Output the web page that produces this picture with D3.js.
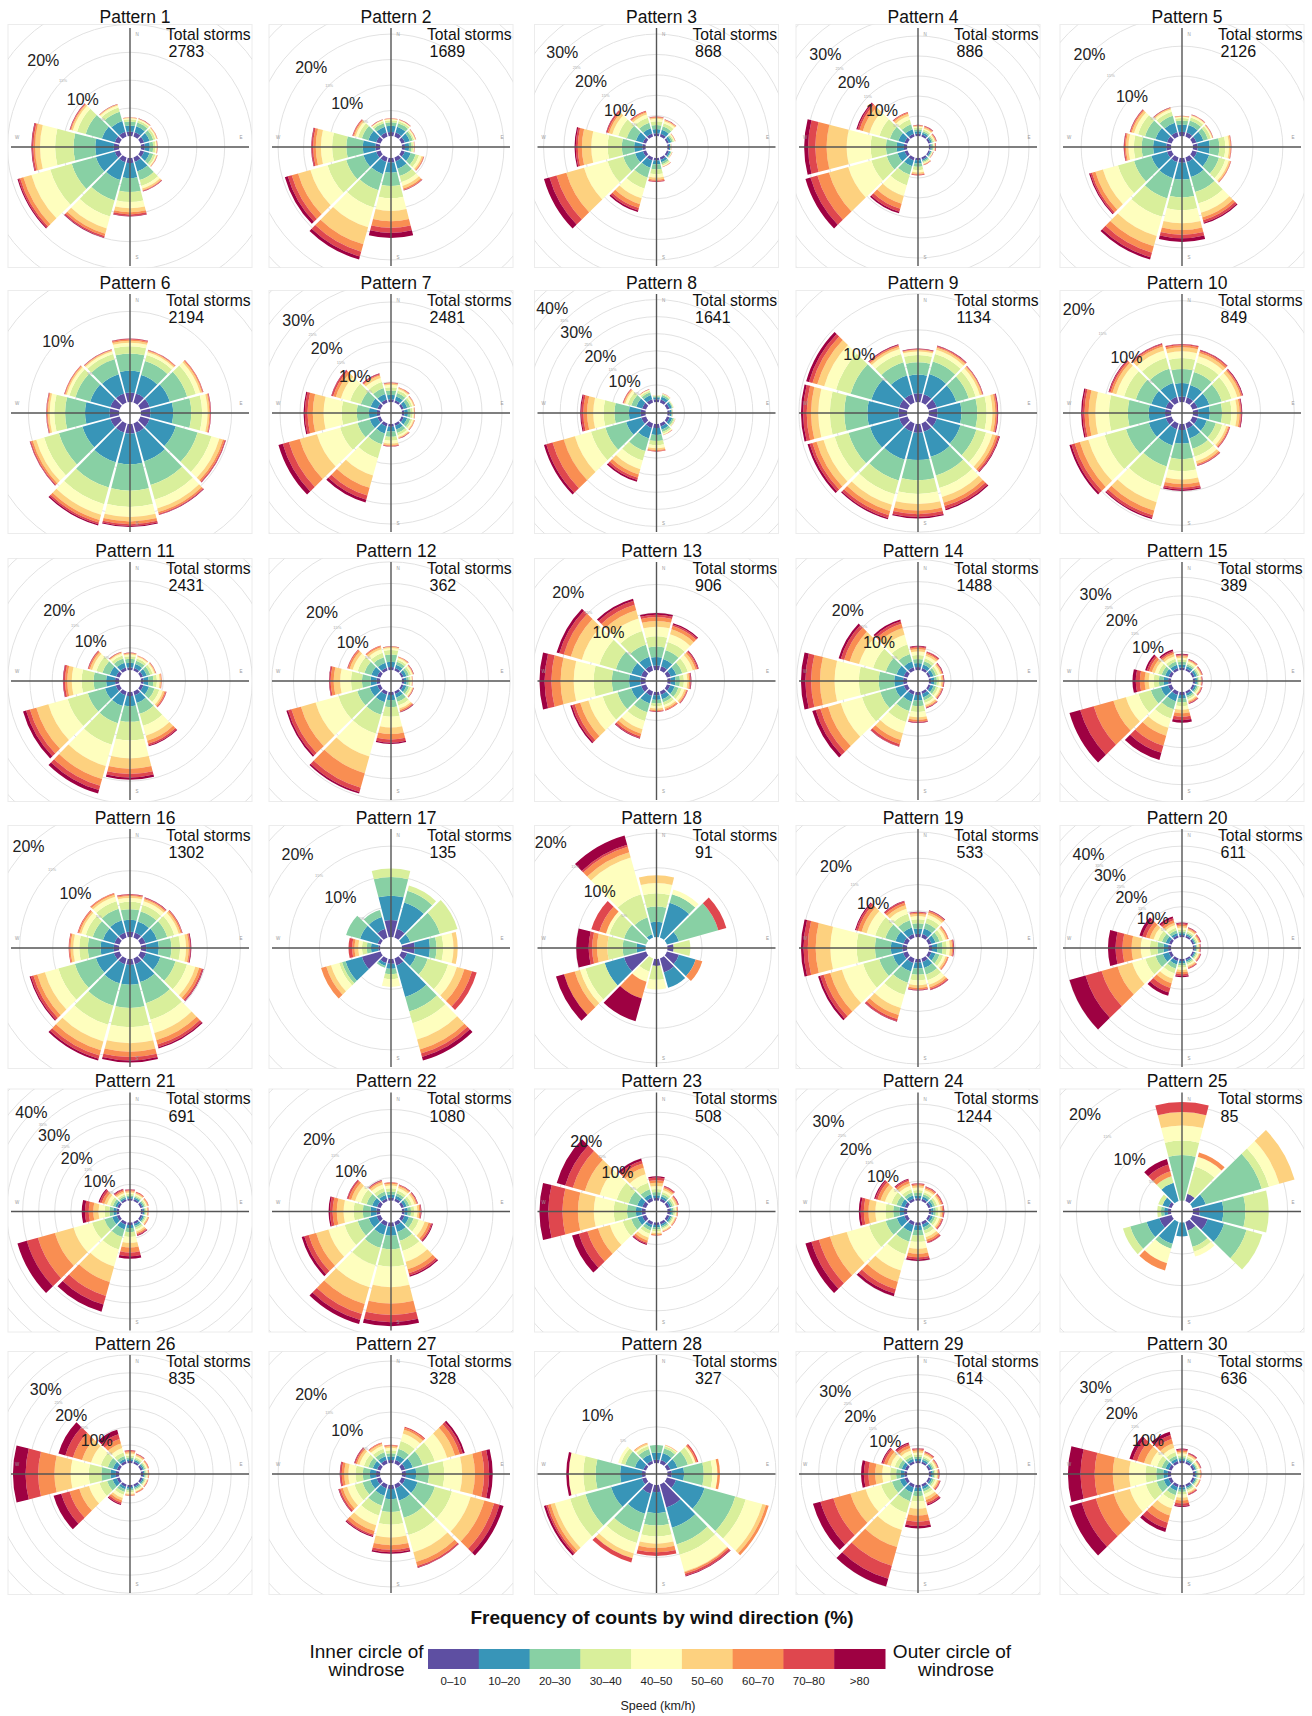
<!DOCTYPE html>
<html>
<head>
<meta charset="utf-8">
<script src="https://cdn.jsdelivr.net/npm/d3@7"></script>
<style>
  body { margin: 0; background: #fff; }
  svg { display: block; font-family: "Liberation Sans", Arial, sans-serif; }
</style>
</head>
<body>
<svg id="chart" width="1312" height="1716"></svg>
<script>
// wind directions (degrees, clockwise from north) of the 12 sectors
const directions = [0, 30, 60, 90, 120, 150, 180, 210, 240, 270, 300, 330];
const speedBins = ["0–10", "10–20", "20–30", "30–40", "40–50", "50–60", "60–70", "70–80", ">80"];
const binColors = ["#5e4fa2", "#3895b8", "#88d0a4", "#d9ef9b", "#fefebe", "#fdd17f", "#f98e52", "#df474e", "#9e0142"];

const totalStorms = [2783, 1689, 868, 886, 2126, 2194, 2481, 1641, 1134, 849,
  2431, 362, 906, 1488, 389, 1302, 135, 91, 533, 611,
  691, 1080, 508, 1244, 85, 835, 328, 327, 614, 636];
// how many % labels (10%, 20%, ...) each rose shows
const labelSteps = [2, 2, 3, 3, 2, 1, 3, 4, 1, 2, 2, 2, 2, 2, 3, 2, 2, 2, 2, 4, 4, 2, 2, 3, 2, 3, 2, 1, 3, 3];

// frequency (%) per sector (rows, same order as directions) and speed bin (columns)
const rose01 = [[0.8,1.1,0.7,0.4,0.2,0.1,0.03,0.03,0.02],[0.8,1.1,0.7,0.4,0.2,0.1,0.05,0.03,0.02],[0.7,1.0,0.7,0.4,0.2,0.1,0.05,0.02,0.02],[0.7,0.9,0.6,0.4,0.2,0.1,0.05,0.03,0.02],[0.7,1.0,0.7,0.4,0.2,0.1,0.05,0.03,0.02],[0.8,1.8,1.6,1.1,0.5,0.3,0.1,0.1,0.05],[0.9,2.7,2.5,1.8,1.1,0.7,0.4,0.3,0.1],[0.9,3.3,3.8,3.0,2.2,1.0,0.4,0.3,0.1],[0.9,3.5,4.5,4.0,3.5,1.5,0.6,0.3,0.2],[0.95,3.3,3.9,3.3,2.7,0.9,0.3,0.25,0.1],[0.9,2.4,3.0,1.6,0.8,0.3,0.15,0.1,0.05],[0.9,2.0,1.7,0.8,0.4,0.15,0.05,0.03,0.02]];
const rose02 = [[0.8,1.2,0.7,0.4,0.2,0.1,0.05,0.03,0.02],[0.8,1.2,0.7,0.4,0.2,0.1,0.05,0.03,0.02],[0.7,1.0,0.6,0.3,0.2,0.1,0.05,0.03,0.02],[0.6,0.8,0.5,0.3,0.15,0.1,0.03,0.02,0.02],[0.7,1.2,1.0,0.7,0.5,0.3,0.15,0.05,0.03],[0.8,1.5,1.5,1.2,0.8,0.5,0.3,0.1,0.05],[0.9,2.0,2.6,2.4,2.5,2.0,1.3,1.0,1.0],[0.9,2.5,3.3,3.5,4.0,3.5,1.5,1.0,0.6],[0.9,2.6,3.5,3.8,3.5,2.5,1.3,0.8,0.6],[0.9,2.5,3.2,2.8,2.2,1.0,0.5,0.3,0.1],[0.9,1.6,1.3,0.8,0.5,0.3,0.2,0.1,0.05],[0.8,1.2,0.7,0.4,0.2,0.1,0.05,0.03,0.02]];
const rose03 = [[0.7,1.0,1.0,0.9,0.6,0.3,0.15,0.1,0.05],[0.7,1.0,0.9,0.8,0.5,0.3,0.1,0.07,0.03],[0.5,0.6,0.4,0.3,0.2,0.1,0.05,0.03,0.02],[0.4,0.3,0.1,0.05,0.05,0.03,0.02,0.02,0.01],[0.5,0.4,0.2,0.1,0.1,0.05,0.03,0.02,0.01],[0.6,0.6,0.5,0.4,0.2,0.1,0.05,0.03,0.02],[0.6,1.0,1.2,1.2,0.8,0.5,0.3,0.2,0.1],[0.8,1.8,2.5,2.8,2.5,1.5,1.0,0.6,0.4],[0.8,2.0,3.0,4.0,6.0,4.5,2.5,1.8,1.4],[0.8,2.0,3.0,3.5,4.0,2.3,1.0,0.5,0.3],[0.8,1.8,2.3,2.2,1.5,0.8,0.4,0.3,0.1],[0.8,1.3,1.4,1.3,0.8,0.5,0.3,0.15,0.05]];
const rose04 = [[0.6,0.6,0.5,0.4,0.3,0.2,0.1,0.07,0.03],[0.5,0.5,0.4,0.4,0.3,0.3,0.2,0.15,0.05],[0.5,0.4,0.3,0.3,0.2,0.2,0.15,0.1,0.05],[0.4,0.3,0.3,0.2,0.2,0.15,0.1,0.1,0.05],[0.4,0.3,0.2,0.15,0.1,0.1,0.05,0.03,0.02],[0.5,0.4,0.3,0.3,0.2,0.15,0.1,0.05,0.03],[0.6,0.8,0.8,0.8,0.6,0.4,0.2,0.15,0.05],[0.8,1.5,2.2,2.7,2.8,2.0,1.3,0.8,0.4],[0.8,1.8,2.8,4.0,6.0,5.0,3.0,1.8,1.3],[0.8,1.8,2.7,3.8,6.0,5.0,2.8,1.8,1.0],[0.8,1.6,2.2,2.7,2.6,1.7,0.9,0.5,0.3],[0.7,1.2,1.3,1.2,0.9,0.6,0.3,0.15,0.05]];
const rose05 = [[0.7,1.2,0.7,0.4,0.2,0.1,0.05,0.03,0.02],[0.7,1.3,0.8,0.5,0.3,0.1,0.05,0.03,0.02],[0.7,1.2,0.8,0.5,0.2,0.1,0.05,0.03,0.02],[0.8,2.0,1.6,1.0,0.6,0.25,0.1,0.05,0.02],[0.8,2.1,1.7,1.1,0.6,0.25,0.1,0.05,0.02],[0.8,2.6,2.6,2.0,1.6,0.8,0.5,0.4,0.2],[0.8,2.8,3.0,2.1,2.2,1.1,0.8,0.6,0.6],[0.8,2.8,3.5,3.2,3.3,1.8,1.1,0.8,0.4],[0.8,2.7,3.0,2.8,2.6,1.3,0.6,0.3,0.2],[0.8,2.2,1.9,1.3,0.9,0.4,0.2,0.15,0.05],[0.8,2.0,1.8,1.2,0.7,0.4,0.2,0.1,0.05],[0.8,1.6,1.2,0.7,0.4,0.2,0.1,0.05,0.03]];
const rose06 = [[1.05,2.4,1.9,0.8,0.4,0.2,0.15,0.08,0.02],[1.05,2.1,1.6,0.7,0.3,0.15,0.08,0.05,0.02],[1.05,2.3,2.0,1.0,0.5,0.2,0.1,0.05,0.02],[1.05,2.5,2.0,1.2,0.6,0.2,0.1,0.05,0.03],[1.05,3.0,2.5,1.6,0.9,0.4,0.2,0.1,0.05],[1.05,3.3,2.7,1.7,1.0,0.4,0.2,0.1,0.05],[1.05,3.4,2.9,1.8,1.1,0.5,0.3,0.2,0.1],[1.05,3.4,2.9,1.9,1.2,0.6,0.3,0.2,0.15],[1.05,3.2,2.7,1.7,0.9,0.4,0.2,0.1,0.05],[1.05,2.7,2.2,1.2,0.5,0.2,0.1,0.05,0.03],[1.05,2.3,1.7,0.7,0.3,0.15,0.08,0.05,0.02],[1.05,2.2,1.7,0.6,0.3,0.15,0.05,0.03,0.02]];
const rose07 = [[0.7,1.1,1.1,0.8,0.6,0.3,0.15,0.1,0.05],[0.6,1.0,0.9,0.6,0.4,0.25,0.15,0.07,0.03],[0.6,0.9,0.8,0.5,0.35,0.2,0.1,0.03,0.02],[0.6,0.9,0.7,0.5,0.3,0.15,0.08,0.05,0.02],[0.6,0.9,0.8,0.5,0.35,0.2,0.1,0.03,0.02],[0.6,1.0,0.9,0.6,0.4,0.25,0.15,0.07,0.03],[0.7,1.2,1.3,1.0,0.7,0.4,0.2,0.1,0.05],[0.8,1.8,2.8,3.6,4.5,3.2,2.0,1.1,0.7],[0.8,2.0,3.2,4.5,6.0,4.5,2.8,1.6,1.1],[0.8,2.0,3.0,3.8,4.5,2.7,1.3,0.7,0.3],[0.8,1.8,2.5,2.8,2.4,1.3,0.7,0.4,0.1],[0.8,1.4,1.6,1.5,1.1,0.6,0.3,0.2,0.1]];
const rose08 = [[0.8,0.6,0.3,0.15,0.1,0.03,0.02,0,0],[0.9,0.9,0.5,0.3,0.1,0.05,0.03,0.02,0],[0.8,0.7,0.3,0.15,0.1,0.03,0.02,0,0],[0.7,0.5,0.25,0.1,0.05,0.03,0.01,0.01,0],[0.8,0.8,0.5,0.3,0.1,0.05,0.02,0.02,0.01],[0.9,1.0,0.7,0.5,0.3,0.1,0.05,0.03,0.02],[1.2,2.0,1.8,1.2,0.9,0.5,0.3,0.15,0.05],[1.4,3.2,3.8,2.9,2.6,1.6,1.0,0.7,0.5],[1.45,4.6,6.3,4.4,4.9,3.4,3.4,1.9,0.7],[1.4,3.5,4.2,3.2,3.0,1.8,1.1,0.6,0.3],[1.2,1.8,1.5,1.1,0.7,0.4,0.2,0.15,0.05],[1.0,1.3,0.8,0.5,0.3,0.1,0.05,0.03,0.02]];
const rose09 = [[1.2,2.6,1.7,1.0,0.5,0.2,0.1,0.05,0.05],[1.2,2.9,1.8,1.1,0.6,0.3,0.15,0.1,0.05],[1.2,2.8,1.8,1.0,0.6,0.3,0.1,0.05,0.05],[1.2,3.3,2.2,1.3,0.8,0.4,0.2,0.1,0.1],[1.2,3.4,2.3,1.4,0.9,0.5,0.3,0.2,0.1],[1.2,3.6,2.7,1.8,1.3,0.8,0.5,0.4,0.2],[1.2,3.8,2.8,1.9,1.4,0.9,0.5,0.4,0.2],[1.2,4.0,3.0,2.0,1.5,0.9,0.6,0.4,0.2],[1.2,4.2,3.1,2.0,1.6,1.0,0.6,0.4,0.3],[1.2,4.3,3.2,2.0,1.6,1.0,0.6,0.5,0.3],[1.2,4.0,3.0,2.1,1.7,1.0,0.7,0.5,0.4],[1.2,2.7,1.9,1.2,0.7,0.3,0.2,0.1,0.1]];
const rose10 = [[0.8,2.0,2.1,1.6,1.0,0.6,0.3,0.15,0.05],[0.8,1.9,2.0,1.5,0.9,0.5,0.3,0.15,0.05],[0.8,1.8,1.9,1.5,0.9,0.5,0.2,0.1,0.1],[0.8,1.7,1.8,1.4,0.8,0.4,0.2,0.1,0.1],[0.8,1.4,1.4,1.0,0.6,0.3,0.15,0.1,0.05],[0.8,1.5,1.6,1.2,0.7,0.4,0.2,0.1,0.05],[0.9,2.0,2.3,1.8,1.2,0.7,0.5,0.3,0.2],[0.9,2.5,3.2,3.1,2.4,1.3,0.7,0.4,0.2],[0.9,2.6,3.5,3.3,2.5,1.3,0.8,0.5,0.3],[0.9,2.4,3.1,2.8,2.0,1.0,0.6,0.3,0.2],[0.9,2.2,2.4,1.8,1.2,0.6,0.3,0.2,0.1],[0.9,2.1,2.2,1.7,1.1,0.6,0.3,0.15,0.05]];
const rose11 = [[0.6,1.0,0.9,0.6,0.4,0.2,0.1,0.05,0.05],[0.6,0.9,0.8,0.5,0.4,0.2,0.05,0.03,0.02],[0.6,0.9,0.8,0.6,0.4,0.2,0.1,0.05,0.05],[0.6,1.1,1.1,0.8,0.6,0.3,0.15,0.05,0],[0.7,1.3,1.3,1.1,0.8,0.4,0.3,0.15,0.05],[0.9,1.8,2.5,2.8,2.3,1.2,0.7,0.4,0.2],[0.9,2.3,3.5,4.2,4.0,2.3,1.2,0.8,0.5],[0.9,2.5,4.0,5.0,5.0,3.0,1.6,1.0,0.8],[0.9,2.5,4.0,4.7,4.5,2.8,1.5,0.9,0.7],[0.9,2.0,2.8,2.7,2.2,1.0,0.5,0.4,0.1],[0.8,1.5,1.7,1.4,1.0,0.5,0.3,0.15,0.05],[0.7,1.1,1.0,0.7,0.5,0.2,0.1,0.05,0.05]];
const rose12 = [[0.7,1.2,1.7,1.0,0.5,0.2,0.1,0.05,0.05],[0.6,0.8,0.7,0.5,0.4,0.2,0.1,0.05,0.05],[0.5,0.7,0.6,0.5,0.3,0.2,0.1,0.05,0.05],[0.5,0.6,0.5,0.4,0.3,0.1,0.05,0.03,0.02],[0.5,0.7,0.6,0.5,0.3,0.2,0.1,0.05,0.05],[0.6,0.9,1.0,0.9,0.7,0.4,0.3,0.1,0.1],[0.7,1.2,1.6,2.2,2.5,1.5,1.3,0.7,0.3],[0.8,1.8,3.0,4.5,5.5,4.0,3.5,1.0,0.4],[0.8,1.8,3.0,4.5,5.5,3.5,2.3,0.8,0.4],[0.8,1.4,2.0,2.5,2.5,1.5,0.7,0.3,0.1],[0.8,1.4,1.7,1.6,1.2,0.7,0.4,0.15,0.05],[0.7,1.2,1.3,1.1,0.8,0.5,0.3,0.1,0]];
const rose13 = [[0.8,1.5,1.8,1.8,1.7,1.0,0.7,0.4,0.3],[0.8,1.3,1.6,1.5,1.4,0.9,0.6,0.3,0.2],[0.7,1.0,1.1,1.0,0.9,0.5,0.3,0.2,0.1],[0.6,0.8,0.8,0.7,0.6,0.3,0.2,0.1,0.1],[0.6,0.8,0.7,0.6,0.5,0.3,0.15,0.1,0.05],[0.6,0.8,0.6,0.5,0.4,0.3,0.2,0.1,0],[0.6,0.8,0.6,0.5,0.4,0.3,0.15,0.1,0.05],[0.8,1.4,1.6,1.6,1.5,0.8,0.5,0.3,0.1],[0.9,1.8,2.5,2.7,2.6,1.5,1.0,0.5,0.3],[0.9,2.0,3.0,3.2,3.5,2.3,1.6,1.2,0.9],[0.9,1.8,2.8,3.0,3.2,2.0,1.3,0.8,0.5],[0.9,1.6,2.2,2.5,2.3,1.5,1.0,0.7,0.4]];
const rose14 = [[0.7,0.9,0.9,0.9,0.8,0.5,0.4,0.2,0.2],[0.6,0.8,0.8,0.7,0.6,0.4,0.3,0.2,0.1],[0.5,0.7,0.6,0.5,0.5,0.3,0.2,0.1,0.1],[0.5,0.7,0.6,0.5,0.5,0.3,0.2,0.1,0.1],[0.5,0.7,0.6,0.5,0.5,0.3,0.2,0.1,0.1],[0.6,0.8,0.7,0.6,0.5,0.4,0.2,0.1,0.1],[0.7,1.2,1.3,1.3,1.2,0.6,0.4,0.2,0.1],[0.8,1.6,2.2,2.6,2.6,1.6,1.0,0.5,0.1],[0.9,2.0,3.5,4.3,5.0,3.0,1.8,1.1,0.8],[0.9,2.0,3.5,4.5,5.5,3.3,2.0,1.3,1.0],[0.9,1.7,2.5,3.0,3.3,2.2,1.3,0.8,0.5],[0.8,1.3,1.8,2.2,2.3,1.6,1.0,0.6,0.4]];
const rose15 = [[0.7,0.8,0.7,0.6,0.5,0.4,0.3,0.2,0.2],[0.6,0.6,0.5,0.4,0.4,0.3,0.2,0.1,0.1],[0.6,0.6,0.4,0.4,0.3,0.2,0.2,0.1,0.1],[0.6,0.5,0.4,0.3,0.3,0.2,0.1,0.1,0.1],[0.6,0.5,0.4,0.4,0.3,0.2,0.2,0.1,0.1],[0.6,0.6,0.5,0.5,0.4,0.3,0.3,0.2,0.1],[0.8,1.0,1.0,1.0,1.0,0.9,1.0,0.9,0.7],[1.0,1.8,2.2,2.6,2.6,2.2,2.8,2.0,2.0],[1.0,2.0,2.8,3.5,3.5,3.5,5.5,3.8,3.0],[0.8,1.2,1.3,1.4,1.3,1.1,1.3,1.1,0.9],[0.8,1.0,1.0,1.0,0.9,0.8,0.8,0.6,0.5],[0.7,0.9,0.9,0.8,0.7,0.6,0.5,0.4,0.4]];
const rose16 = [[0.8,1.8,1.6,1.1,0.6,0.3,0.15,0.1,0.05],[0.8,1.7,1.6,1.0,0.6,0.3,0.15,0.1,0.05],[0.8,1.8,1.6,1.1,0.7,0.3,0.2,0.05,0.05],[0.8,1.9,1.9,1.3,0.9,0.4,0.2,0.1,0.1],[0.9,2.2,2.4,1.8,1.3,0.6,0.4,0.2,0.1],[0.9,2.8,3.3,2.6,2.1,1.1,0.7,0.4,0.2],[0.9,3.0,3.5,2.9,2.4,1.3,0.8,0.5,0.3],[0.9,3.0,3.5,3.0,2.6,1.4,0.8,0.5,0.3],[0.9,2.8,3.3,2.6,2.1,1.2,0.6,0.4,0.2],[0.8,2.0,1.9,1.3,0.9,0.4,0.2,0.1,0],[0.8,1.8,1.6,1.1,0.7,0.3,0.2,0.1,0],[0.8,1.9,1.8,1.2,0.7,0.3,0.2,0.1,0]];
const rose17 = [[2.8,4.0,3.1,1.4,0,0,0,0,0],[1.5,4.5,2.0,0.9,0,0,0,0,0],[0,1.5,5.1,3.0,0,0,0,0,0],[2.1,2.5,1.1,1.1,1.7,0.7,0,0,0],[1.0,1.5,2.0,3.5,1.5,1.3,1.3,0.8,0],[1.2,5.4,2.5,2.0,2.8,1.7,0.7,0.6,0.6],[0.8,0.8,0.9,0.8,1.3,0,0,0,0],[0.8,0.5,0.3,0,0,0,0,0,0],[3.2,2.8,0.6,0.5,1.4,0.8,0.9,0,0],[0.3,1.2,0.7,0.8,0.6,0.6,0.4,0.6,0],[0.5,3.0,2.4,0,0,0,0,0,0],[1.5,2.0,1.2,0,0,0,0,0,0]];
const rose18 = [[0,2.2,2.2,1.9,1.5,1.1,0,0,0],[0,5.2,1.3,0,0.7,0,0,0,0],[0,1.8,5.9,0,0,0,0,1.2,0],[0.9,0,0,2.4,0,0,0,0,0],[1.8,2.5,0,0,0,0,1.0,0,0],[2.1,2.3,0,0,0,0,0,0,0],[1.0,0,0,2.0,1.4,0,0,0,0],[0,0,0,2.0,1.5,0,2.5,0,3.4],[3.3,2.9,0,2.9,0.8,0.8,1.6,0,1.2],[0,1.3,2.0,2.2,0,1.5,0.7,0.5,1.8],[0,0,3.3,2.2,0.5,0,1.0,1.2,0],[0,0.5,2.5,3.5,5.5,0.8,0.8,0.3,1.4]];
const rose19 = [[0.6,1.0,1.0,0.8,0.6,0.4,0.2,0.1,0.1],[0.7,1.1,1.1,0.9,0.7,0.4,0.3,0.1,0.1],[0.6,0.8,0.8,0.7,0.5,0.3,0.2,0.1,0],[0.6,1.0,1.0,0.8,0.6,0.4,0.2,0.1,0.1],[0.6,0.8,0.8,0.7,0.5,0.3,0.2,0.1,0],[0.7,1.2,1.3,1.1,0.9,0.5,0.3,0.2,0.1],[0.7,1.1,1.2,1.1,0.9,0.5,0.3,0.1,0.1],[0.9,1.7,2.2,2.4,2.6,1.4,0.8,0.4,0.1],[0.9,2.0,2.7,3.2,4.2,2.3,1.3,0.7,0.4],[0.9,2.2,3.0,3.5,5.0,2.8,1.5,0.8,0.5],[0.8,1.6,2.0,2.0,1.7,1.0,0.7,0.4,0.2],[0.7,1.3,1.4,1.3,1.0,0.7,0.5,0.3,0.1]];
const rose20 = [[0.7,0.6,0.6,0.6,0.6,0.5,0.5,0.4,0.3],[0.6,0.5,0.5,0.5,0.4,0.4,0.3,0.2,0.1],[0.6,0.4,0.4,0.4,0.3,0.3,0.3,0.2,0.1],[0.6,0.4,0.3,0.3,0.3,0.3,0.2,0.1,0.1],[0.6,0.4,0.4,0.4,0.4,0.3,0.2,0.2,0.1],[0.6,0.5,0.5,0.5,0.5,0.4,0.3,0.2,0.1],[0.7,0.7,0.7,0.7,0.8,0.7,0.7,0.6,0.4],[0.9,1.2,1.4,1.6,1.8,1.6,1.6,1.6,1.1],[1.0,2.0,2.5,3.5,4.5,5.0,5.5,5.5,5.5],[1.0,1.5,2.0,2.5,3.0,3.0,3.0,2.3,2.5],[0.9,1.1,1.3,1.4,1.5,1.3,1.3,1.2,1.0],[0.8,0.8,0.9,0.9,0.9,0.8,0.8,0.7,0.6]];
const rose21 = [[0.6,0.5,0.5,0.5,0.4,0.4,0.3,0.2,0.1],[0.6,0.5,0.4,0.4,0.4,0.3,0.2,0.2,0],[0.6,0.4,0.4,0.4,0.3,0.3,0.2,0.1,0],[0.6,0.4,0.3,0.3,0.3,0.2,0.2,0.1,0],[0.6,0.5,0.4,0.4,0.3,0.3,0.2,0.1,0],[0.7,0.6,0.6,0.6,0.6,0.5,0.4,0.3,0.2],[0.8,1.0,1.2,1.5,1.8,1.5,1.5,1.2,0.8],[0.9,1.5,2.5,4.0,5.5,5.0,4.5,2.8,2.3],[0.9,1.5,2.5,4.0,6.0,6.0,5.5,3.6,3.0],[0.8,1.0,1.2,1.5,1.9,1.6,1.4,1.2,1.0],[0.7,0.7,0.8,0.9,1.0,0.9,0.8,0.6,0.4],[0.6,0.5,0.5,0.5,0.5,0.5,0.4,0.3,0.2]];
const rose22 = [[0.6,0.7,0.7,0.7,0.6,0.4,0.2,0.1,0],[0.6,0.6,0.6,0.6,0.6,0.4,0.2,0.1,0.1],[0.6,0.6,0.6,0.6,0.6,0.4,0.2,0.1,0.1],[0.6,0.7,0.7,0.7,0.7,0.4,0.3,0.1,0.1],[0.7,1.0,1.1,1.2,1.3,0.9,0.5,0.3,0.2],[0.8,1.5,2.0,2.3,2.5,1.7,0.9,0.5,0.3],[0.9,2.0,3.0,3.8,4.5,3.6,2.5,1.6,0.9],[0.9,2.0,3.0,4.0,5.0,3.8,2.3,1.4,0.9],[0.9,1.8,2.5,3.0,3.7,2.8,1.7,1.0,0.6],[0.8,1.3,1.7,2.0,2.2,1.5,0.9,0.6,0.3],[0.8,1.1,1.3,1.3,1.3,0.9,0.6,0.3,0.1],[0.6,0.8,0.8,0.8,0.8,0.5,0.3,0.1,0.1]];
const rose23 = [[0.6,0.6,0.7,0.7,0.7,0.7,0.6,0.6,0.3],[0.6,0.5,0.5,0.5,0.5,0.4,0.3,0.2,0.1],[0.6,0.4,0.4,0.4,0.3,0.3,0.2,0.1,0.1],[0.6,0.4,0.4,0.3,0.3,0.2,0.1,0.1,0],[0.6,0.4,0.3,0.3,0.3,0.2,0.1,0.1,0],[0.6,0.4,0.4,0.3,0.3,0.2,0.1,0.1,0],[0.6,0.5,0.5,0.4,0.4,0.3,0.2,0.1,0],[0.7,0.6,0.7,0.8,0.9,0.7,0.5,0.3,0.2],[0.9,1.1,1.5,2.0,3.0,2.8,2.5,2.0,1.6],[0.9,1.3,2.0,3.0,4.5,3.6,3.5,3.2,2.0],[0.9,1.2,2.0,2.8,4.0,3.5,2.8,1.8,2.0],[0.8,0.8,1.2,1.5,2.0,1.5,1.0,0.7,0.5]];
const rose24 = [[0.6,0.7,0.7,0.7,0.7,0.5,0.3,0.2,0.1],[0.6,0.6,0.6,0.6,0.6,0.4,0.3,0.2,0.1],[0.6,0.6,0.6,0.6,0.6,0.4,0.3,0.2,0.1],[0.6,0.6,0.6,0.6,0.6,0.4,0.3,0.2,0.1],[0.6,0.6,0.6,0.6,0.6,0.4,0.3,0.2,0.1],[0.7,0.8,0.8,0.9,0.9,0.7,0.5,0.3,0.1],[0.8,1.2,1.4,1.6,1.8,1.3,0.9,0.6,0.4],[0.9,1.8,2.6,3.4,4.4,3.0,2.0,1.2,0.7],[0.9,2.0,3.0,4.5,6.0,4.5,3.0,2.0,1.6],[0.8,1.2,1.6,2.0,2.6,1.8,1.2,0.8,0.5],[0.8,1.0,1.2,1.4,1.7,1.2,0.8,0.6,0.3],[0.7,0.8,0.8,0.9,0.9,0.7,0.6,0.4,0.2]];
const rose25 = [[0,0,7.2,2.3,2.4,2.1,0,1.6,0],[1.2,0,0,4.5,1.6,0,0.7,0,0],[0,2.2,9.2,1.2,1.7,2.5,0,0,0],[1.1,3.7,3.5,3.7,0,0,0,0,0],[2.5,2.7,3.7,2.6,0,0,0,0,0],[1.4,0,2.7,0.8,0.8,0,0,0,0],[0,2.2,0,0,0,0,0,0,0],[0,3.6,0.8,0,2.4,0,1.2,0,0],[2.0,2.1,2.7,1.2,0,0,0,0,0],[0.5,0.6,0.5,0.6,0,0,0,0,0],[0.5,1.0,0,0.7,0,0,0,0,0],[0,3.0,0,1.1,0,0,0.8,1.1,0.9]];
const rose26 = [[0.6,0.5,0.5,0.5,0.5,0.4,0.3,0.2,0.1],[0.6,0.4,0.4,0.4,0.4,0.3,0.2,0.1,0.1],[0.6,0.4,0.4,0.3,0.3,0.2,0.2,0.1,0],[0.6,0.4,0.3,0.3,0.3,0.2,0.1,0.1,0],[0.6,0.4,0.3,0.3,0.3,0.2,0.1,0.1,0],[0.6,0.4,0.4,0.3,0.3,0.2,0.2,0.1,0],[0.6,0.5,0.5,0.4,0.4,0.3,0.2,0.1,0],[0.7,0.7,0.8,0.8,0.9,0.7,0.6,0.4,0.3],[0.8,1.2,1.6,2.2,3.0,2.8,2.8,2.4,2.2],[0.9,1.5,2.5,3.5,5.0,4.5,4.5,3.5,3.5],[0.8,1.1,1.5,2.0,2.8,2.6,2.6,2.2,2.0],[0.7,0.7,0.8,1.0,1.3,1.3,1.3,1.3,1.3]];
const rose27 = [[0.6,0.7,0.6,0.6,0.5,0.3,0.2,0.1,0],[0.7,1.0,1.3,1.6,1.5,0.8,0.4,0.2,0],[0.8,1.5,2.0,2.5,2.5,1.6,1.0,0.6,0.4],[0.8,2.0,2.5,3.0,3.5,2.5,1.8,1.0,0.7],[0.8,2.5,3.5,3.5,3.8,2.8,2.0,1.1,0.8],[0.8,2.5,3.5,3.5,3.5,2.0,0.8,0.3,0.1],[0.8,2.0,2.5,2.5,2.5,1.5,0.9,0.5,0.3],[0.8,1.5,2.0,2.0,2.0,1.2,0.7,0.3,0.2],[0.8,1.3,1.6,1.6,1.5,0.9,0.5,0.3,0.1],[0.8,1.2,1.4,1.4,1.4,0.8,0.5,0.3,0.1],[0.7,0.9,0.9,0.9,0.9,0.5,0.3,0.2,0.1],[0.7,0.8,0.8,0.7,0.6,0.4,0.2,0.1,0]];
const rose28 = [[0.45,1.0,1.05,0,0,0,0,0,0],[0.5,1.0,0.7,0.3,0.1,0.05,0.05,0,0],[0.5,1.0,1.5,0.8,0.3,0,0.2,0.2,0],[0.6,1.7,2.7,1.2,0.7,0,0.35,0,0],[1.3,4.1,4.4,1.5,2.4,0.5,0.4,0,0],[3.3,2.9,2.4,1.5,2.4,0.1,0.2,0.3,0.1],[1.0,2.9,1.7,1.5,1.0,0.6,0.6,0.5,0],[1.3,2.9,2.7,1.5,1.5,0.7,0,0.6,0],[0.6,4.4,3.7,2.2,2.2,0.6,0.4,0.25,0.3],[0.5,3.0,3.4,1.7,2.0,0,0,0,0.35],[0.4,1.2,1.4,0.6,0.4,0,0,0,0],[0.4,0.9,0.8,0.4,0.2,0.2,0.1,0,0]];
const rose29 = [[0.6,0.6,0.6,0.6,0.6,0.5,0.4,0.2,0.1],[0.6,0.5,0.5,0.5,0.5,0.4,0.3,0.2,0.1],[0.6,0.5,0.4,0.4,0.4,0.3,0.2,0.1,0.1],[0.6,0.5,0.4,0.4,0.4,0.3,0.2,0.1,0.1],[0.6,0.5,0.5,0.5,0.5,0.4,0.3,0.2,0.1],[0.7,0.7,0.7,0.8,0.9,0.8,0.8,0.5,0.3],[0.8,1.0,1.3,1.6,2.0,1.9,1.8,1.2,0.7],[0.9,1.5,2.5,3.5,5.0,5.0,5.5,3.8,2.3],[0.9,1.4,2.3,3.2,4.5,4.5,5.0,3.8,2.2],[0.8,1.0,1.3,1.7,2.2,2.0,1.9,1.3,0.8],[0.8,0.9,1.0,1.1,1.2,1.0,0.9,0.5,0.3],[0.7,0.7,0.7,0.8,0.9,0.8,0.8,0.5,0.3]];
const rose30 = [[0.6,0.5,0.5,0.5,0.5,0.4,0.4,0.3,0.2],[0.6,0.4,0.4,0.4,0.4,0.3,0.2,0.2,0.1],[0.6,0.4,0.3,0.3,0.3,0.2,0.2,0.1,0.1],[0.6,0.4,0.3,0.3,0.3,0.2,0.1,0.1,0],[0.6,0.4,0.3,0.3,0.3,0.2,0.1,0.1,0],[0.6,0.4,0.4,0.4,0.4,0.3,0.2,0.2,0.1],[0.7,0.6,0.6,0.7,0.8,0.8,0.8,0.6,0.3],[0.8,1.0,1.2,1.5,2.2,2.0,2.0,1.6,1.0],[0.9,1.3,2.0,3.0,4.5,4.5,5.0,4.0,3.4],[0.9,1.2,1.9,2.9,4.4,4.4,4.9,3.8,3.4],[0.8,0.9,1.1,1.3,1.8,1.8,1.9,1.3,0.9],[0.7,0.7,0.8,1.0,1.2,1.2,1.3,1.1,0.9]];

const roses = [rose01, rose02, rose03, rose04, rose05, rose06, rose07, rose08, rose09, rose10,
  rose11, rose12, rose13, rose14, rose15, rose16, rose17, rose18, rose19, rose20,
  rose21, rose22, rose23, rose24, rose25, rose26, rose27, rose28, rose29, rose30];

const svg = d3.select("#chart");
const holeR = 11, outerR = 117;
const colX = [130, 391, 656.5, 918, 1182];
const rowY = [147, 413, 681, 948, 1211.5, 1474];
const halfSector = 14.4 * Math.PI / 180;
const arc = d3.arc().padAngle(0.01).padRadius(100);
const diag = Math.SQRT1_2;

roses.forEach((rose, i) => {
  const cx = colX[i % 5], cy = rowY[Math.floor(i / 5)];
  const totals = rose.map(d => d3.sum(d));
  const r = d3.scaleLinear().domain([0, d3.max(totals)]).range([holeR, outerR]);

  const g = svg.append("g").attr("transform", `translate(${cx},${cy})`);
  g.append("clipPath").attr("id", "clip" + i)
    .append("rect").attr("x", -122).attr("y", -122.5).attr("width", 244).attr("height", 243);
  g.append("rect")
    .attr("x", -122).attr("y", -122.5).attr("width", 244).attr("height", 243)
    .attr("fill", "none").attr("stroke", "#ececec");

  // grid circles every 5 %
  const grid = g.append("g").attr("clip-path", `url(#clip${i})`);
  for (let v = 5; r(v) < 178; v += 5) {
    grid.append("circle").attr("r", r(v))
      .attr("fill", "none").attr("stroke", "#e2e2e2").attr("stroke-width", 1);
  }

  // stacked speed bands
  rose.forEach((bins, j) => {
    const a = directions[j] * Math.PI / 180;
    let cum = 0;
    bins.forEach((v, b) => {
      if (v > 0) {
        g.append("path")
          .attr("d", arc({ innerRadius: r(cum), outerRadius: r(cum + v), startAngle: a - halfSector, endAngle: a + halfSector }))
          .attr("fill", binColors[b]);
      }
      cum += v;
    });
  });

  // crosshair
  g.append("line").attr("x1", -119).attr("x2", 119).attr("y1", 0).attr("y2", 0)
    .attr("stroke", "#555").attr("stroke-width", 1.4);
  g.append("line").attr("x1", 0).attr("x2", 0).attr("y1", -119).attr("y2", 119)
    .attr("stroke", "#555").attr("stroke-width", 1.4);

  // tiny compass letters
  [["N", 7, -111], ["E", 111, -8], ["S", 7, 112], ["W", -113, -8]].forEach(([t, x, y]) => {
    g.append("text").attr("x", x).attr("y", y).attr("font-size", 4.5)
      .attr("fill", "#999").attr("text-anchor", "middle").text(t);
  });

  // % labels along the north-west diagonal
  for (let k = 1; k <= labelSteps[i]; k++) {
    const v = 10 * k, rr = r(v), rs = r(v - 5);
    g.append("text").attr("x", -rs * diag).attr("y", -rs * diag)
      .attr("font-size", 4).attr("fill", "#aaa").attr("text-anchor", "middle")
      .attr("dominant-baseline", "central").text((v - 5) + "%");
    g.append("text").attr("x", -rr * diag).attr("y", -rr * diag)
      .attr("font-size", 16).attr("fill", "#222").attr("text-anchor", "middle")
      .attr("dominant-baseline", "central").text(v + "%");
  }

  g.append("text").attr("x", 5).attr("y", -124.5).attr("text-anchor", "middle")
    .attr("font-size", 17.5).attr("fill", "#111").text("Pattern " + (i + 1));
  g.append("text").attr("x", 36).attr("y", -107.5)
    .attr("font-size", 15.7).attr("fill", "#111").text("Total storms");
  g.append("text").attr("x", 38.5).attr("y", -90)
    .attr("font-size", 16).attr("fill", "#111").text(totalStorms[i]);
});

// legend
const keyX = d3.scaleBand().domain(speedBins).range([428, 885]);
svg.append("text").attr("x", 662).attr("y", 1624).attr("text-anchor", "middle")
  .attr("font-size", 19).attr("font-weight", "bold").attr("fill", "#111")
  .text("Frequency of counts by wind direction (%)");
svg.selectAll("rect.key").data(speedBins).join("rect").attr("class", "key")
  .attr("x", d => keyX(d)).attr("y", 1649).attr("width", keyX.bandwidth() + 0.5).attr("height", 20)
  .attr("fill", (d, i) => binColors[i]);
svg.selectAll("text.keylab").data(speedBins).join("text").attr("class", "keylab")
  .attr("x", d => keyX(d) + keyX.bandwidth() / 2).attr("y", 1685)
  .attr("text-anchor", "middle").attr("font-size", 11.5).attr("fill", "#222").text(d => d);
svg.append("text").attr("x", 658).attr("y", 1710).attr("text-anchor", "middle")
  .attr("font-size", 12.5).attr("fill", "#222").text("Speed (km/h)");

[["Inner circle of", 366.5, 1658], ["windrose", 366.5, 1676],
 ["Outer circle of", 952, 1658], ["windrose", 956, 1676]].forEach(([t, x, y]) => {
  svg.append("text").attr("x", x).attr("y", y).attr("text-anchor", "middle")
    .attr("font-size", 19).attr("fill", "#111").text(t);
});
</script>
</body>
</html>
